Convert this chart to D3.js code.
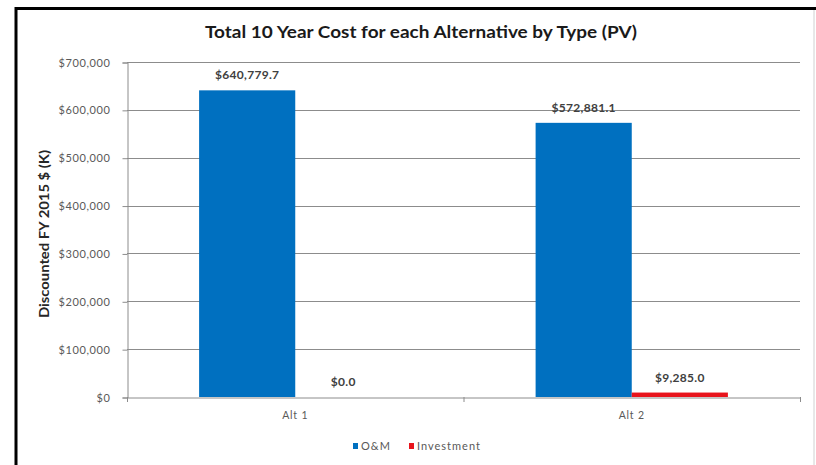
<!DOCTYPE html>
<html><head><meta charset="utf-8">
<script src="https://cdn.jsdelivr.net/npm/d3@7"></script>
<style>body{margin:0;background:#fff}svg{display:block}</style>
</head><body>
<svg id="c" width="816" height="465"></svg>
<script>
const categories = ["Alt 1", "Alt 2"];
const seriesNames = ["O&M", "Investment"];
const omValues = [640779.7, 572881.1];
const investmentValues = [0.0, 9285.0];
const yTicks = [0, 100000, 200000, 300000, 400000, 500000, 600000, 700000];
const title = "Total 10 Year Cost for each Alternative by Type (PV)";
const yTitle = "Discounted FY 2015 $ (K)";

const colors = ["#0070C0", "#E8141C"];
const font = "Lato, 'Open Sans', sans-serif";
const svg = d3.select("#c");

// frame
svg.append("rect").attr("x", 16).attr("y", 8.5).attr("width", 820).attr("height", 480)
  .attr("fill", "#fff").attr("stroke", "#000").attr("stroke-width", 3);
svg.append("line").attr("x1", 814).attr("x2", 814).attr("y1", 10).attr("y2", 465)
  .attr("stroke", "#d0d0d0").attr("stroke-width", 1);

const L = 127, R = 800, T = 62, B = 397;
const x0 = d3.scaleBand().domain(categories).range([L, R]).paddingInner(0).paddingOuter(0);
const y = d3.scaleLinear().domain([0, 700000]).range([B, T]);
const bw = x0.bandwidth() / 3.5;
const x1 = d3.scaleBand().domain(seriesNames).range([0, bw * 2]);

// gridlines
svg.append("g").selectAll("line").data(yTicks.filter(d => d > 0)).join("line")
  .attr("x1", L).attr("x2", R).attr("y1", d => Math.round(y(d)) + 0.5).attr("y2", d => Math.round(y(d)) + 0.5)
  .attr("stroke", "#8c8c8c").attr("stroke-width", 1);

// y axis
const yAxis = d3.axisLeft(y).tickValues(yTicks).tickSize(5).tickPadding(12)
  .tickFormat(d => "$" + d3.format(",")(d));
const gy = svg.append("g").attr("transform", `translate(${L + 0.5},0.5)`).call(yAxis);
gy.select(".domain").attr("stroke", "#8c8c8c");
gy.selectAll(".tick line").attr("stroke", "#8c8c8c");
gy.selectAll("text").attr("font-family", font).attr("font-size", 11).attr("fill", "#595959")
  .attr("letter-spacing", 0.6);

const series = [omValues, investmentValues];
const data = [];
categories.forEach((c, i) => seriesNames.forEach((s, j) => data.push({c, s, v: series[j][i], j})));

// bars
svg.append("g").selectAll("rect").data(data).join("rect")
  .attr("x", d => x0(d.c) + bw * 0.75 + x1(d.s))
  .attr("width", x1.bandwidth())
  .attr("y", d => y(d.v))
  .attr("height", d => y(0) - y(d.v))
  .attr("fill", d => colors[d.j]);

// x axis
const xAxis = d3.axisBottom(x0).tickSize(0).tickPadding(14);
const gx = svg.append("g").attr("transform", `translate(0,${B + 0.5})`).call(xAxis);
gx.select(".domain").attr("stroke", "#8c8c8c");
gx.selectAll("text").attr("font-family", font).attr("font-size", 10.5).attr("fill", "#595959")
  .attr("letter-spacing", 0.8);
svg.append("g").selectAll("line").data([L, x0("Alt 2"), R]).join("line")
  .attr("x1", d => d + 0.5).attr("x2", d => d + 0.5).attr("y1", B).attr("y2", B + 5)
  .attr("stroke", "#8c8c8c");

// data labels
svg.append("g").selectAll("text").data(data).join("text")
  .attr("x", d => x0(d.c) + bw * 0.75 + x1(d.s) + x1.bandwidth() / 2)
  .attr("y", d => y(d.v) - 11)
  .attr("text-anchor", "middle")
  .attr("font-family", font).attr("font-size", 12).attr("font-weight", "bold").attr("fill", "#404040")
  .attr("letter-spacing", 0.3)
  .text(d => "$" + d3.format(",.1f")(d.v));

// title
svg.append("text").attr("x", 421).attr("y", 38).attr("text-anchor", "middle")
  .attr("font-family", font).attr("font-size", 17.5).attr("font-weight", "bold").attr("fill", "#1a1a1a")
  .attr("textLength", 432).attr("lengthAdjust", "spacingAndGlyphs")
  .text(title);

// y title
svg.append("text").attr("transform", "translate(49,234) rotate(-90)").attr("text-anchor", "middle")
  .attr("font-family", font).attr("font-size", 13.5).attr("font-weight", "bold").attr("fill", "#262626")
  .attr("textLength", 168).attr("lengthAdjust", "spacingAndGlyphs")
  .text(yTitle);

// legend
const lg = svg.append("g").attr("transform", "translate(353,447)");
const lx = [0, 56];
seriesNames.forEach((s, i) => {
  lg.append("rect").attr("x", lx[i]).attr("y", -4).attr("width", 5).attr("height", 6).attr("fill", colors[i]);
  lg.append("text").attr("x", lx[i] + 8).attr("y", 3).attr("font-family", font).attr("font-size", 11)
    .attr("fill", "#595959").attr("letter-spacing", 1).text(s);
});
</script>
</body></html>
